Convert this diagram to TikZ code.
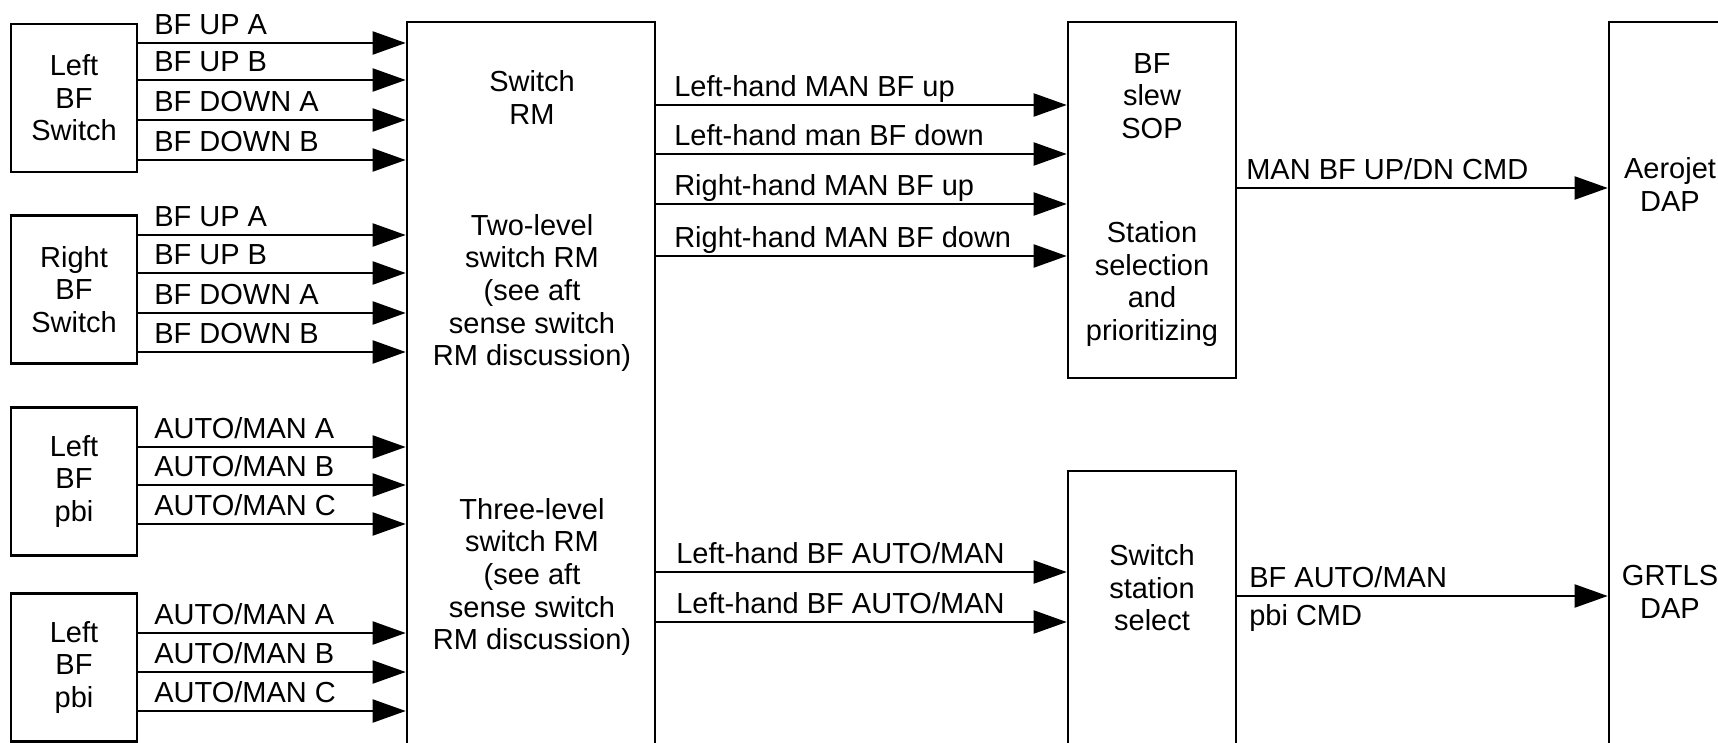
\documentclass[tikz,border=0pt]{standalone}
\usepackage{fontspec}
\setmainfont{Liberation Sans}
\usetikzlibrary{arrows.meta}

\tikzset{
  blk/.style={draw, line width=1.3pt, inner sep=0pt, align=center},
  txt/.style={inner sep=0pt, align=center},
  sig/.style={line width=1pt, -{Triangle[length=16.5pt,width=11.5pt]}},
  lab/.style={pos=0, anchor=base west, inner sep=0pt, xshift=#1, yshift=4.3pt},
  lab/.default=7.5pt,
  labdn/.style={pos=0, anchor=base west, inner sep=0pt, xshift=#1, yshift=-14.5pt}
}

\begin{document}
\begin{tikzpicture}[x=0.5pt, y=-0.5pt, font=\fontsize{14.5}{16.3}\selectfont]
        \useasboundingbox (0,0) rectangle (1718,743);

        \node[blk, minimum width=63pt, minimum height=74pt] (lsw) at (74,98) {Left\\BF\\Switch};
        \node[blk, minimum width=63pt, minimum height=74pt] (rsw) at (74,289.5) {Right\\BF\\Switch};
        \node[blk, minimum width=63pt, minimum height=74pt] (lpbi) at (74,481.5) {Left\\BF\\pbi};
        \node[blk, minimum width=63pt, minimum height=74pt] (rpbi) at (74,667.5) {Left\\BF\\pbi};

        \node[blk, minimum width=124pt, minimum height=389pt] (rm) at (531,411) {};
        \node[txt] (rmtop) at (532,97.5) {Switch\\RM};
        \node[txt] (rmmid) at (532,293) {Two-level\\switch RM\\(see aft\\sense switch\\RM discussion)};
        \node[txt] (rmbot) at (532,577) {Three-level\\switch RM\\(see aft\\sense switch\\RM discussion)};

        \node[blk, minimum width=84pt, minimum height=178pt] (sop) at (1152,200) {};
        \node[txt] (soptop) at (1152,96) {BF\\slew\\SOP};
        \node[txt] (sopbot) at (1152,284) {Station\\selection\\and\\prioritizing};

        \node[blk, minimum width=84pt, minimum height=164.5pt] (sss) at (1152,635.5) {};
        \node[txt] (ssstxt) at (1152,588) {Switch\\station\\select};

        \node[blk, minimum width=61pt, minimum height=389pt] (dap) at (1670,411) {};
        \node[txt] (aerotxt) at (1670,184.5) {Aerojet\\DAP};
        \node[txt] (grtxt) at (1670,592) {GRTLS\\DAP};

        \draw[sig] (lsw.east |- 0,43) -- node[lab] {BF UP A} (rm.west |- 0,43);
        \draw[sig] (lsw.east |- 0,80) -- node[lab] {BF UP B} (rm.west |- 0,80);
        \draw[sig] (lsw.east |- 0,120) -- node[lab] {BF DOWN A} (rm.west |- 0,120);
        \draw[sig] (lsw.east |- 0,160) -- node[lab] {BF DOWN B} (rm.west |- 0,160);

        \draw[sig] (rsw.east |- 0,235) -- node[lab] {BF UP A} (rm.west |- 0,235);
        \draw[sig] (rsw.east |- 0,273) -- node[lab] {BF UP B} (rm.west |- 0,273);
        \draw[sig] (rsw.east |- 0,313) -- node[lab] {BF DOWN A} (rm.west |- 0,313);
        \draw[sig] (rsw.east |- 0,352) -- node[lab] {BF DOWN B} (rm.west |- 0,352);

        \draw[sig] (lpbi.east |- 0,447) -- node[lab] {AUTO/MAN A} (rm.west |- 0,447);
        \draw[sig] (lpbi.east |- 0,485) -- node[lab] {AUTO/MAN B} (rm.west |- 0,485);
        \draw[sig] (lpbi.east |- 0,524) -- node[lab] {AUTO/MAN C} (rm.west |- 0,524);

        \draw[sig] (rpbi.east |- 0,633) -- node[lab] {AUTO/MAN A} (rm.west |- 0,633);
        \draw[sig] (rpbi.east |- 0,672) -- node[lab] {AUTO/MAN B} (rm.west |- 0,672);
        \draw[sig] (rpbi.east |- 0,711) -- node[lab] {AUTO/MAN C} (rm.west |- 0,711);

        \draw[sig] (rm.east |- 0,105) -- node[lab=8.5pt] {Left-hand MAN BF up} (sop.west |- 0,105);
        \draw[sig] (rm.east |- 0,154) -- node[lab=8.5pt] {Left-hand man BF down} (sop.west |- 0,154);
        \draw[sig] (rm.east |- 0,204) -- node[lab=8.5pt] {Right-hand MAN BF up} (sop.west |- 0,204);
        \draw[sig] (rm.east |- 0,256) -- node[lab=8.5pt] {Right-hand MAN BF down} (sop.west |- 0,256);

        \draw[sig] (rm.east |- 0,572) -- node[lab=9.5pt] {Left-hand BF AUTO/MAN} (sss.west |- 0,572);
        \draw[sig] (rm.east |- 0,622) -- node[lab=9.5pt] {Left-hand BF AUTO/MAN} (sss.west |- 0,622);

        \draw[sig] (sop.east |- 0,188) -- node[lab=4pt] {MAN BF UP/DN CMD} (dap.west |- 0,188);
        \draw[sig] (sss.east |- 0,596) -- node[lab=5.5pt] {BF AUTO/MAN} node[labdn=5.5pt] {pbi CMD} (dap.west |- 0,596);
\end{tikzpicture}
\end{document}
